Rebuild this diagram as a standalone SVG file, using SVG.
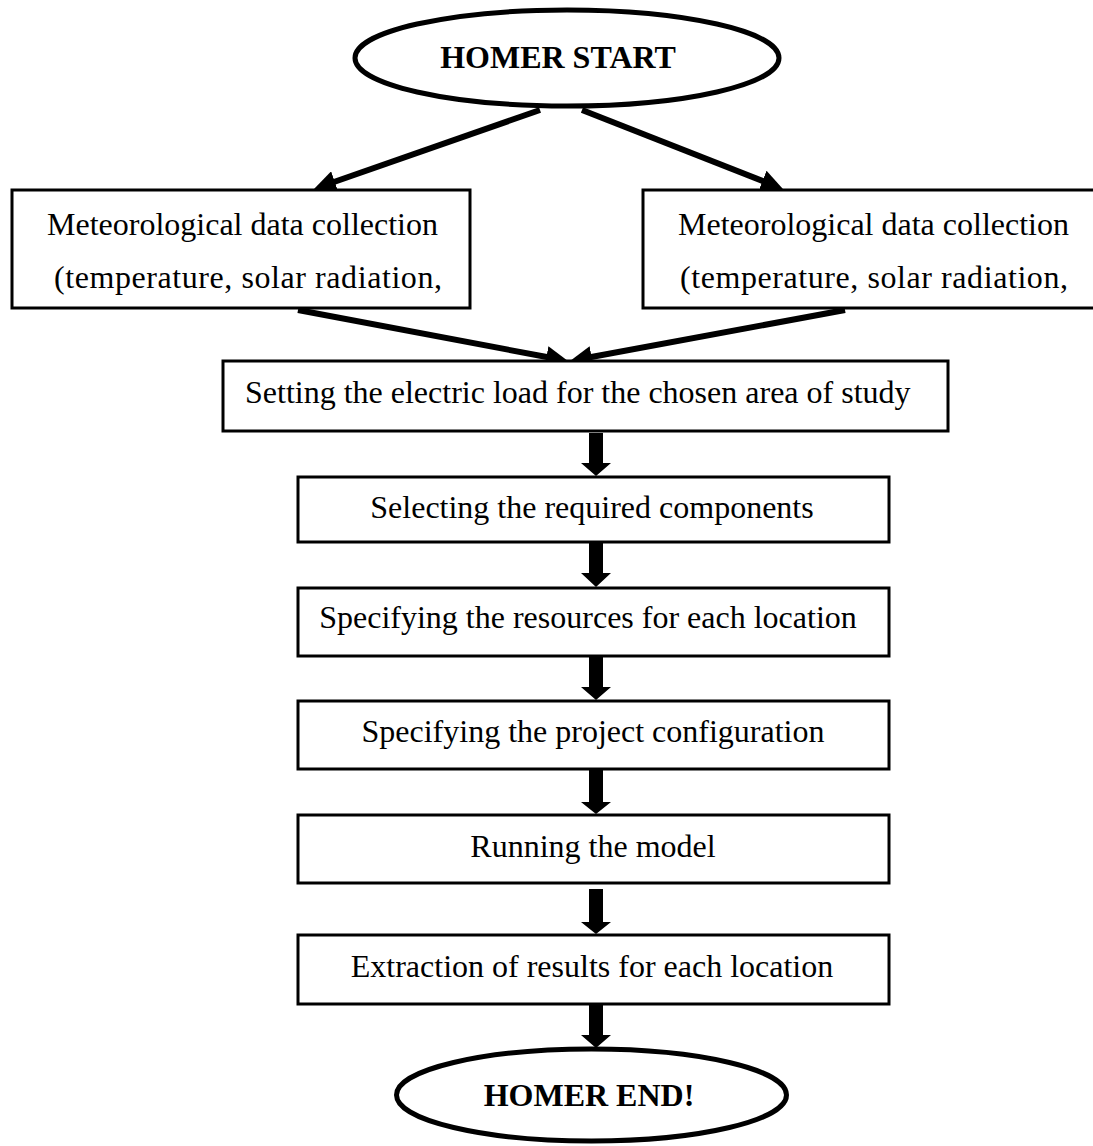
<svg xmlns="http://www.w3.org/2000/svg" width="1093" height="1146" viewBox="0 0 1093 1146">
<style>
  .box { fill: #ffffff; stroke: #000000; stroke-width: 3; }
  .oval { fill: #ffffff; stroke: #000000; stroke-width: 5; }
  .t { font-family: "Liberation Serif", "Times New Roman", serif; font-size: 32px; fill: #000000; }
  .tc { text-anchor: middle; }
  .b { font-weight: bold; }
  .diag { stroke: #000000; stroke-width: 6; fill: none; marker-end: url(#ah); }
  .block { fill: #000000; stroke: none; }
</style>
<defs>
  <marker id="ah" markerUnits="userSpaceOnUse" markerWidth="22" markerHeight="22" refX="10" refY="11" orient="auto">
    <path d="M0,0 L22,11 L0,22 z" fill="#000000"/>
  </marker>
</defs>
<rect width="1093" height="1146" fill="#ffffff"/>

<g id="connectors">
  <line class="diag" x1="540" y1="110" x2="325.3" y2="185"/>
  <line class="diag" x1="582" y1="110" x2="771.8" y2="184.6"/>
  <line class="diag" x1="298" y1="310" x2="556.2" y2="358.8"/>
  <line class="diag" x1="845" y1="310" x2="581.8" y2="358.8"/>
  <polygon class="block" points="589,433 603,433 603,463 611,463 596,476 581,463 589,463"/>
  <polygon class="block" points="589,543 603,543 603,573 611,573 596,587 581,573 589,573"/>
  <polygon class="block" points="589,657 603,657 603,687 611,687 596,700 581,687 589,687"/>
  <polygon class="block" points="589,770 603,770 603,802 611,802 596,814 581,802 589,802"/>
  <polygon class="block" points="589,889 603,889 603,922 611,922 596,934 581,922 589,922"/>
  <polygon class="block" points="589,1005 603,1005 603,1035 611,1035 596,1048 581,1035 589,1035"/>
</g>

<g id="start">
  <ellipse class="oval" cx="567" cy="58" rx="212" ry="48"/>
  <text class="t tc b" x="558" y="68">HOMER START</text>
</g>

<g id="meteo-left">
  <rect class="box" x="12" y="190" width="458" height="118"/>
  <text class="t" x="47" y="235">Meteorological data collection</text>
  <text class="t" x="54" y="288" textLength="388" lengthAdjust="spacing">(temperature, solar radiation,</text>
</g>

<g id="meteo-right">
  <rect class="box" x="643" y="190" width="460" height="118"/>
  <text class="t" x="678" y="235">Meteorological data collection</text>
  <text class="t" x="680" y="288" textLength="388" lengthAdjust="spacing">(temperature, solar radiation,</text>
</g>

<g id="setting">
  <rect class="box" x="223" y="361" width="725" height="70"/>
  <text class="t" x="245" y="403">Setting the electric load for the chosen area of study</text>
</g>

<g id="selecting">
  <rect class="box" x="298" y="477" width="591" height="65"/>
  <text class="t tc" x="592" y="518">Selecting the required components</text>
</g>

<g id="resources">
  <rect class="box" x="298" y="588" width="591" height="68"/>
  <text class="t tc" x="588" y="628">Specifying the resources for each location</text>
</g>

<g id="config">
  <rect class="box" x="298" y="701" width="591" height="68"/>
  <text class="t tc" x="593" y="742">Specifying the project configuration</text>
</g>

<g id="running">
  <rect class="box" x="298" y="815" width="591" height="68"/>
  <text class="t tc" x="593" y="857">Running the model</text>
</g>

<g id="extraction">
  <rect class="box" x="298" y="935" width="591" height="69"/>
  <text class="t tc" x="592" y="977">Extraction of results for each location</text>
</g>

<g id="end">
  <ellipse class="oval" cx="591.5" cy="1095" rx="195" ry="46"/>
  <text class="t tc b" x="589" y="1106">HOMER END!</text>
</g>
</svg>
